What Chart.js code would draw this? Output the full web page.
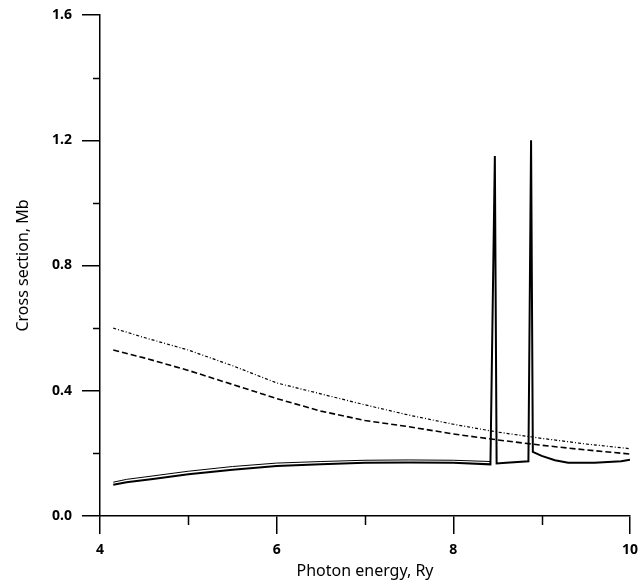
<!DOCTYPE html>
<html>
<head>
<meta charset="utf-8">
<script src="https://cdn.jsdelivr.net/npm/chart.js@4"></script>
<style>
  html, body { margin: 0; padding: 0; background: #fff; }
  #wrap { width: 638px; height: 585px; }
</style>
</head>
<body>
<div id="wrap"><canvas id="crossSection"></canvas></div>
<script>
// values
var dottedEnergy = [4.15, 4.5, 5.0, 5.5, 6.0, 6.5, 7.0, 7.5, 8.0, 8.5, 9.0, 9.5, 10.0];
var dottedSigma  = [0.600, 0.570, 0.530, 0.480, 0.425, 0.390, 0.355, 0.322, 0.293, 0.268, 0.248, 0.230, 0.215];

var dashedEnergy = [4.15, 4.5, 5.0, 5.5, 6.0, 6.5, 7.0, 7.5, 8.0, 8.5, 9.0, 9.5, 10.0];
var dashedSigma  = [0.530, 0.505, 0.465, 0.420, 0.375, 0.335, 0.305, 0.285, 0.262, 0.243, 0.226, 0.211, 0.198];

var solidEnergy = [4.15, 4.3, 4.6, 5.0, 5.5, 6.0, 6.5, 7.0, 7.5, 8.0, 8.42, 8.47, 8.49, 8.6, 8.85, 8.88, 8.90, 9.0, 9.15, 9.3, 9.6, 9.9, 10.0];
var solidSigma  = [0.100, 0.108, 0.118, 0.133, 0.148, 0.160, 0.165, 0.170, 0.171, 0.170, 0.165, 1.15, 0.168, 0.170, 0.175, 1.20, 0.205, 0.192, 0.178, 0.170, 0.170, 0.175, 0.180];

var upperEnergy = [4.15, 4.3, 4.6, 5.0, 5.5, 6.0, 6.5, 7.0, 7.5, 8.0, 8.42];
var upperSigma  = [0.108, 0.117, 0.128, 0.143, 0.158, 0.169, 0.174, 0.178, 0.179, 0.178, 0.174];

var xTicks = [4, 6, 8, 10];
var yTicks = [0.0, 0.4, 0.8, 1.2, 1.6];

function pts(xs, ys) {
    var out = [];
    for (var i = 0; i < xs.length; i++) out.push({x: xs[i], y: ys[i]});
    return out;
}

// short ticks at the half steps
var minorTicks = {
    id: 'minorTicks',
    afterDraw: function(chart) {
        var ctx = chart.ctx;
        var xs = chart.scales.x, ys = chart.scales.y;
        ctx.save();
        ctx.strokeStyle = '#000';
        ctx.lineWidth = 1.5;
        [5, 7, 9].forEach(function(v) {
            var p = Math.round(xs.getPixelForValue(v)) + 0.5;
            ctx.beginPath();
            ctx.moveTo(p, ys.bottom);
            ctx.lineTo(p, ys.bottom + 9);
            ctx.stroke();
        });
        [0.2, 0.6, 1.0, 1.4].forEach(function(v) {
            var p = Math.round(ys.getPixelForValue(v)) + 0.5;
            ctx.beginPath();
            ctx.moveTo(xs.left, p);
            ctx.lineTo(xs.left - 7, p);
            ctx.stroke();
        });
        ctx.restore();
    }
};

var font = "'Noto Sans', 'DejaVu Sans', sans-serif";

new Chart(document.getElementById('crossSection'), {
    type: 'line',
    data: {
        datasets: [
            { data: pts(dottedEnergy, dottedSigma), borderColor: '#000', borderWidth: 1.2, borderDash: [3, 2, 1, 2] },
            { data: pts(dashedEnergy, dashedSigma), borderColor: '#000', borderWidth: 1.6, borderDash: [6, 3] },
            { data: pts(upperEnergy, upperSigma), borderColor: '#000', borderWidth: 1 },
            { data: pts(solidEnergy, solidSigma), borderColor: '#000', borderWidth: 2 }
        ]
    },
    plugins: [minorTicks],
    options: {
        animation: false,
        responsive: true,
        maintainAspectRatio: false,
        layout: { padding: { top: 15, right: 8, left: 10, bottom: 0 } },
        elements: { point: { radius: 0 }, line: { tension: 0 } },
        plugins: { legend: { display: false }, tooltip: { enabled: false } },
        scales: {
            x: {
                type: 'linear', min: 4, max: 10,
                afterBuildTicks: function(s) { s.ticks = xTicks.map(function(v) { return {value: v}; }); },
                afterFit: function(s) { s.height = 69; s.paddingLeft = 0; s.paddingRight = 0; },
                border: { display: true, color: '#000', width: 1.5 },
                grid: { display: true, drawOnChartArea: false, color: '#000', lineWidth: 1.5, tickLength: 18 },
                ticks: { color: '#000', font: { family: font, size: 14, weight: 'bold' }, padding: 8, maxRotation: 0,
                         callback: function(v) { return String(v); } },
                title: { display: true, text: 'Photon energy, Ry', color: '#000', font: { family: font, size: 16 }, padding: { top: 0 } }
            },
            y: {
                min: 0, max: 1.6,
                afterBuildTicks: function(s) { s.ticks = yTicks.map(function(v) { return {value: v}; }); },
                afterFit: function(s) { s.width = 90; s.paddingTop = 0; s.paddingBottom = 0; },
                border: { display: true, color: '#000', width: 1.5 },
                grid: { display: true, drawOnChartArea: false, color: '#000', lineWidth: 1.5, tickLength: 18 },
                ticks: { color: '#000', font: { family: font, size: 14, weight: 'bold' }, padding: 10,
                         callback: function(v) { return v.toFixed(1); } },
                title: { display: true, text: 'Cross section, Mb', color: '#000', font: { family: font, size: 16 } }
            }
        }
    }
});
</script>
</body>
</html>
